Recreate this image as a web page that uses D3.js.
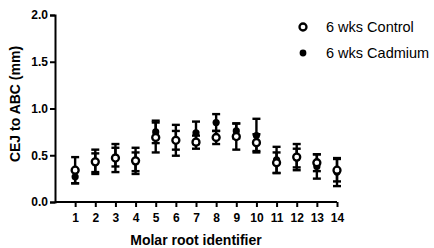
<!DOCTYPE html>
<html>
<head>
<meta charset="utf-8">
<script src="https://cdn.jsdelivr.net/npm/d3@7"></script>
<style>
  body { margin: 0; background: #fff; }
  svg { font-family: "Liberation Sans", Arial, sans-serif; }
  .axis path, .axis line { stroke: #000; stroke-width: 2px; }
  .axis text { font-size: 12px; font-weight: bold; fill: #000; }
</style>
</head>
<body>
<div id="chart"></div>
<script>
// Data (mean, SD)
var roots = [1, 2, 3, 4, 5, 6, 7, 8, 9, 10, 11, 12, 13, 14];
var controlMean = [0.34, 0.43, 0.47, 0.44, 0.69, 0.66, 0.64, 0.69, 0.70, 0.635, 0.42, 0.48, 0.42, 0.34];
var controlSd   = [0.14, 0.13, 0.15, 0.14, 0.16, 0.165, 0.07, 0.07, 0.14, 0.09, 0.11, 0.14, 0.09, 0.12];
var cadmiumMean = [0.27, 0.42, 0.48, 0.43, 0.75, 0.66, 0.74, 0.85, 0.76, 0.71, 0.45, 0.47, 0.38, 0.32];
var cadmiumSd   = [0.07, 0.10, 0.10, 0.10, 0.12, 0.10, 0.12, 0.09, 0.08, 0.18, 0.14, 0.10, 0.13, 0.15];
var yTicks = [0, 0.5, 1.0, 1.5, 2.0];
var legendLabels = ["6 wks Control", "6 wks Cadmium"];

var width = 434, height = 248;

var svg = d3.select("#chart")
  .append("svg")
    .attr("width", width)
    .attr("height", height);

var x = d3.scaleLinear()
  .domain([0, 14])
  .range([55, 337]);

var y = d3.scaleLinear()
  .domain([0, 2])
  .range([202, 15]);

// axes
svg.append("g")
  .attr("class", "axis")
  .attr("transform", "translate(0,202)")
  .call(d3.axisBottom(x).tickValues(roots).tickSizeOuter(0).tickSize(5).tickPadding(6))
  .call(g => g.select(".domain").attr("d", "M55,0H337"));

svg.append("g")
  .attr("class", "axis")
  .attr("transform", "translate(55,0)")
  .call(d3.axisLeft(y).tickValues(yTicks).tickFormat(d3.format(".1f")).tickSizeOuter(0).tickSize(5).tickPadding(2));

svg.append("text")
  .attr("x", 196)
  .attr("y", 245)
  .attr("text-anchor", "middle")
  .style("font-size", "14px")
  .style("font-weight", "bold")
  .text("Molar root identifier");

svg.append("text")
  .attr("transform", "translate(20,104) rotate(-90)")
  .attr("text-anchor", "middle")
  .style("font-size", "14px")
  .style("font-weight", "bold")
  .text("CEJ to ABC (mm)");

// build series
function series(means, sds) {
  return roots.map(function(r, i) { return {r: r, m: means[i], sd: sds[i]}; });
}
var cad = series(cadmiumMean, cadmiumSd);
var ctl = series(controlMean, controlSd);

function drawBars(data) {
  var g = svg.append("g").attr("stroke", "#000").attr("stroke-width", 2.4);
  data.forEach(function(d) {
    var cx = x(d.r);
    g.append("line").attr("x1", cx).attr("x2", cx).attr("y1", y(d.m + d.sd)).attr("y2", y(d.m - d.sd));
    g.append("line").attr("x1", cx - 4).attr("x2", cx + 4).attr("y1", y(d.m + d.sd)).attr("y2", y(d.m + d.sd));
    g.append("line").attr("x1", cx - 4).attr("x2", cx + 4).attr("y1", y(d.m - d.sd)).attr("y2", y(d.m - d.sd));
  });
}

drawBars(cad);
svg.append("g").selectAll("circle")
  .data(cad)
  .enter().append("circle")
    .attr("cx", d => x(d.r))
    .attr("cy", d => y(d.m))
    .attr("r", 3.6)
    .attr("fill", "#000");

drawBars(ctl);
svg.append("g").selectAll("circle")
  .data(ctl)
  .enter().append("circle")
    .attr("cx", d => x(d.r))
    .attr("cy", d => y(d.m))
    .attr("r", 3.5)
    .attr("fill", "#fff")
    .attr("stroke", "#000")
    .attr("stroke-width", 2.3);

// legend
var legend = svg.append("g");
legendLabels.forEach(function(lab, i) {
  var ly = 27 + i * 26;
  if (i == 0) {
    legend.append("circle").attr("cx", 303).attr("cy", ly).attr("r", 3.5)
      .attr("fill", "#fff").attr("stroke", "#000").attr("stroke-width", 2.3);
  } else {
    legend.append("circle").attr("cx", 303).attr("cy", ly).attr("r", 3.4).attr("fill", "#000");
  }
  legend.append("text")
    .attr("x", 326)
    .attr("y", ly + 5)
    .style("font-size", "14.5px")
    .text(lab);
});
</script>
</body>
</html>
